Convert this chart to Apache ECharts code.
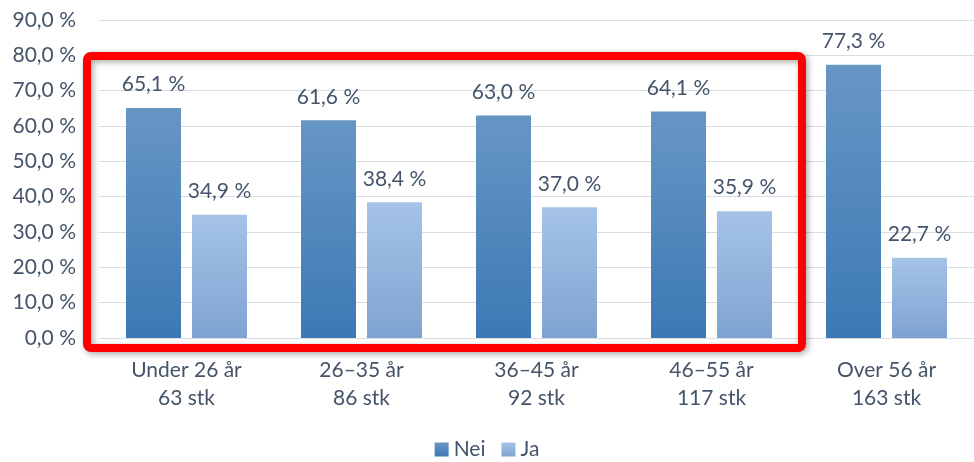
<!DOCTYPE html>
<html>
<head>
<meta charset="utf-8">
<script src="https://cdn.jsdelivr.net/npm/echarts@6/dist/echarts.min.js"></script>
<style>
  html, body { margin: 0; padding: 0; background: #fff; }
  #chart { width: 974px; height: 462px; }
</style>
</head>
<body>
<div id="chart"></div>
<script>
// data
const categories = ["Under 26 år\n63 stk", "26–35 år\n86 stk", "36–45 år\n92 stk", "46–55 år\n117 stk", "Over 56 år\n163 stk"];
const nei = [65.1, 61.6, 63.0, 64.1, 77.3];
const ja = [34.9, 38.4, 37.0, 35.9, 22.7];

const textColor = "#44546a";
const font = "Lato, 'Open Sans', sans-serif";
const fmt = v => v.toFixed(1).replace(".", ",") + " %";

const chart = echarts.init(document.getElementById("chart"));

const option = {
  animation: false,
  textStyle: { fontFamily: font },
  grid: { left: 99, right: 0, top: 20, bottom: 124 },
  legend: {
    bottom: -3,
    left: "center",
    itemWidth: 14,
    itemHeight: 14,
    itemGap: 16,
    icon: "rect",
    textStyle: { color: textColor, fontSize: 21, fontFamily: font },
    data: ["Nei", "Ja"]
  },
  xAxis: {
    type: "category",
    data: categories,
    axisTick: { show: false },
    axisLine: { lineStyle: { color: "#d9dde3" } },
    axisLabel: { color: textColor, fontSize: 21, lineHeight: 28, margin: 18, fontFamily: font }
  },
  yAxis: {
    type: "value",
    min: 0,
    max: 90,
    interval: 10,
    axisLabel: { color: textColor, fontSize: 21, margin: 23, formatter: fmt, fontFamily: font },
    splitLine: { lineStyle: { color: "#d9dde3", width: 1 } },
    axisLine: { show: false },
    axisTick: { show: false }
  },
  series: [
    {
      name: "Nei",
      type: "bar",
      data: nei,
      barWidth: 55,
      barGap: "20%",
      itemStyle: {
        color: new echarts.graphic.LinearGradient(0, 0, 0, 1, [
          { offset: 0, color: "#6796c5" },
          { offset: 1, color: "#3c79b4" }
        ])
      },
      label: { show: true, position: "top", distance: 13, color: textColor, fontSize: 21, formatter: p => fmt(p.value), fontFamily: font }
    },
    {
      name: "Ja",
      type: "bar",
      data: ja,
      barWidth: 55,
      itemStyle: {
        color: new echarts.graphic.LinearGradient(0, 0, 0, 1, [
          { offset: 0, color: "#a5c3e7" },
          { offset: 1, color: "#7fa3d1" }
        ])
      },
      label: { show: true, position: "top", distance: 13, color: textColor, fontSize: 21, formatter: p => fmt(p.value), fontFamily: font }
    }
  ],
  // red highlight frame around the first four groups
  graphic: [
    {
      type: "rect",
      shape: { x: 87, y: 56, width: 715, height: 292, r: 4 },
      style: {
        fill: null,
        stroke: "#ff0000",
        lineWidth: 8,
        shadowBlur: 6,
        shadowColor: "rgba(0,0,0,0.35)",
        shadowOffsetX: 2,
        shadowOffsetY: 2
      },
      z: 100
    }
  ]
};

chart.setOption(option);
</script>
</body>
</html>
